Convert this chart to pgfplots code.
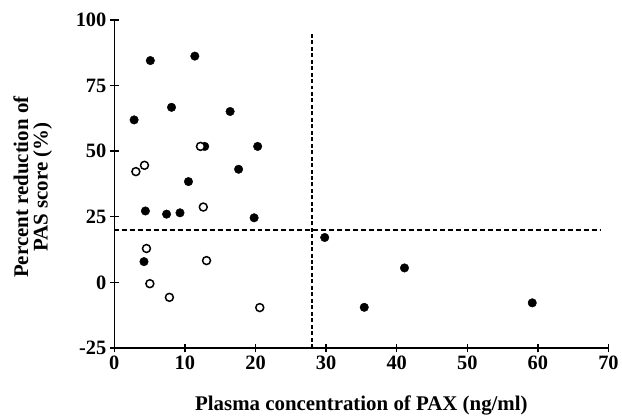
\documentclass[border=0pt]{standalone}
\usepackage{pgfplots}
\pgfplotsset{compat=1.18}
\usepackage{fontspec}
\setmainfont{Liberation Serif}
\begin{document}
\begin{tikzpicture}
\begin{axis}[
    name=ax,
    scale only axis,
    width=497pt, height=330pt,
    xmin=0, xmax=70, ymin=-25, ymax=100,
    axis lines=left,
    axis line style={-, line width=1.5pt},
    xtick={0,10,...,70},
    ytick={-25,0,25,50,75,100},
    tick style={black, line width=1.4pt},
    major tick length=9pt,
    /pgf/number format/assume math mode=true,
    tick label style={font=\bfseries\fontsize{20.5}{22}\selectfont},
    label style={font=\bfseries\fontsize{21}{19.5}\selectfont},
    xlabel={Plasma concentration of PAX (ng/ml)},
    ylabel={Percent reduction of\\PAS score (\%)},
    xlabel style={at={(axis description cs:0.5,-0.176)}, anchor=center},
    ylabel style={align=center, at={(axis description cs:-0.165,0.49)}, anchor=center},
]
% thresholds
\addplot[black, line width=2.4pt, dash pattern=on 5pt off 3pt] coordinates {(0,20) (69,20)};
\addplot[black, line width=2.4pt, dash pattern=on 4pt off 2.5pt] coordinates {(28,-25) (28,95)};
% filled circles
\addplot[only marks, mark=*, mark size=4.3pt, mark options={fill=black, draw=black}] coordinates {
    (5.1,84.5) (11.4,86.2) (8.1,66.7) (16.4,65.1) (2.8,61.9)
    (12.8,51.8) (20.3,51.8) (17.6,43.1) (10.5,38.4)
    (4.4,27.2) (7.4,26.0) (9.3,26.5) (19.8,24.6)
    (29.8,17.1) (4.2,7.9) (41.1,5.5) (35.4,-9.5) (59.2,-7.8)
};
% open circles
\addplot[only marks, mark=*, mark size=4pt, mark options={fill=white, draw=black, line width=1.5pt}] coordinates {
    (12.2,51.8) (3.05,42.2) (4.27,44.6) (12.6,28.7) (4.55,12.9)
    (13.06,8.3) (5.03,-0.5) (7.8,-5.7) (20.6,-9.6)
};
\end{axis}
\path (ax.south west) ++(-115pt,-69pt) rectangle ++(622pt,419pt);
\end{tikzpicture}
\end{document}
